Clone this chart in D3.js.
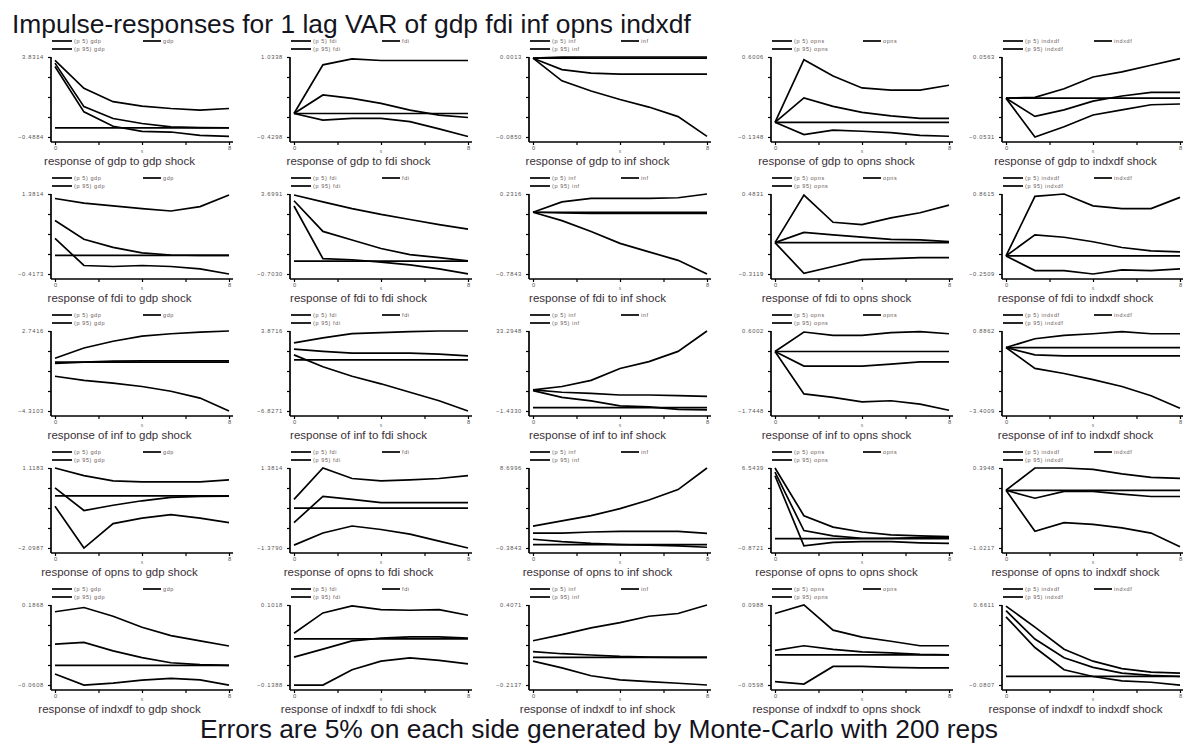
<!DOCTYPE html>
<html>
<head>
<meta charset="utf-8">
<script src="https://cdn.jsdelivr.net/npm/d3@7"></script>
<style>
  body { margin: 0; background: #fff; }
  svg { display: block; font-family: "Liberation Sans", Arial, sans-serif; }
</style>
</head>
<body>
<svg id="chart" width="1183" height="745"></svg>
<script>
// ---------------- data ----------------
const variables = ["gdp", "fdi", "inf", "opns", "indxdf"];
const steps = [0, 1.33, 2.67, 4, 5.33, 6.67, 8];
const xTicks = [0, 2, 4, 6, 8];
const mainTitle = "Impulse-responses for 1 lag VAR of gdp fdi inf opns indxdf";
const footNote = "Errors are 5% on each side generated by Monte-Carlo with 200 reps";

// y-axis extremes (top / bottom tick labels), rows = response, cols = shock
const yTop = [
  [3.8314, 1.0338, 0.0013, 0.6006, 0.0563],
  [1.3814, 3.6991, 0.2316, 0.4831, 0.8615],
  [2.7416, 3.8716, 33.2948, 0.6002, 0.8862],
  [1.1183, 1.3814, 8.6996, 6.5439, 0.3948],
  [0.1868, 0.1018, 0.4071, 0.0988, 0.6611]
];
const yBottom = [
  [-0.4884, -0.4298, -0.0850, -0.1348, -0.0531],
  [-0.4173, -0.7030, -0.7843, -0.3119, -0.2509],
  [-4.3103, -6.8271, -1.4330, -1.7448, -3.4009],
  [-2.0987, -1.3790, -0.3843, -0.8721, -1.0217],
  [-0.0608, -0.1388, -0.2137, -0.0598, -0.0807]
];

// response of gdp to shocks in gdp, fdi, inf, opns, indxdf
const gdpUpper = [
  [3.65, 2.14, 1.42, 1.18, 1.05, 0.96, 1.05],
  [0, 0.89, 1.00, 0.97, 0.97, 0.97, 0.97],
  [0, 0.0012, 0.0013, 0.0013, 0.0013, 0.0013, 0.0013],
  [0, 0.576, 0.426, 0.316, 0.297, 0.297, 0.341],
  [0, 0.001, 0.0128, 0.029, 0.036, 0.045, 0.054]
];
const gdpIrf = [
  [3.50, 1.15, 0.51, 0.24, 0.06, 0.02, 0.01],
  [0, 0.339, 0.277, 0.185, 0.062, -0.03, -0.073],
  [0, -0.0123, -0.016, -0.0171, -0.0171, -0.0171, -0.0171],
  [0, 0.225, 0.147, 0.091, 0.059, 0.037, 0.037],
  [0, -0.025, -0.016, -0.004, 0.003, 0.008, 0.008]
];
const gdpLower = [
  [3.32, 0.87, 0.09, -0.18, -0.22, -0.40, -0.45],
  [0, -0.12, -0.09, -0.09, -0.15, -0.28, -0.42],
  [0, -0.0244, -0.0354, -0.0446, -0.0527, -0.063, -0.0843],
  [0, -0.113, -0.072, -0.082, -0.094, -0.12, -0.128],
  [0, -0.053, -0.039, -0.023, -0.016, -0.009, -0.008]
];

// response of fdi
const fdiUpper = [
  [1.28, 1.175, 1.114, 1.052, 0.999, 1.098, 1.358],
  [3.643, 3.268, 2.894, 2.575, 2.294, 2.013, 1.77],
  [0, 0.132, 0.176, 0.176, 0.176, 0.184, 0.2316],
  [0, 0.473, 0.202, 0.178, 0.246, 0.297, 0.372],
  [0, 0.828, 0.8615, 0.696, 0.658, 0.658, 0.814]
];
const fdiIrf = [
  [0.784, 0.364, 0.18, 0.057, 0.01, 0.0, 0.0],
  [3.33, 1.639, 1.17, 0.702, 0.365, 0.196, 0.02],
  [0, -0.01, -0.015, -0.015, -0.015, -0.015, -0.015],
  [0, 0.101, 0.077, 0.054, 0.033, 0.027, 0.01],
  [0, 0.293, 0.26, 0.198, 0.118, 0.071, 0.057]
];
const fdiLower = [
  [0.386, -0.226, -0.249, -0.226, -0.249, -0.302, -0.417],
  [3.04, 0.14, 0.08, -0.05, -0.2, -0.42, -0.70],
  [0, -0.106, -0.244, -0.395, -0.503, -0.611, -0.784],
  [0, -0.305, -0.237, -0.17, -0.16, -0.15, -0.15],
  [0, -0.203, -0.203, -0.251, -0.194, -0.203, -0.18]
];

// response of inf
const infUpper = [
  [0.344, 1.24, 1.84, 2.29, 2.50, 2.65, 2.74],
  [2.28, 2.96, 3.51, 3.65, 3.78, 3.87, 3.87],
  [7.73, 9.2, 11.87, 17.04, 19.99, 24.44, 33.29],
  [0, 0.57, 0.47, 0.47, 0.55, 0.58, 0.52],
  [0, 0.47, 0.65, 0.74, 0.85, 0.74, 0.74]
];
const infIrf = [
  [-0.12, 0.0, 0.08, 0.1, 0.1, 0.1, 0.1],
  [1.45, 1.14, 0.91, 0.91, 0.91, 0.78, 0.55],
  [7.73, 6.70, 6.25, 5.51, 5.51, 5.2, 4.93],
  [0, -0.427, -0.427, -0.427, -0.368, -0.307, -0.307],
  [0, -0.39, -0.45, -0.45, -0.45, -0.45, -0.45]
];
const infLower = [
  [-1.25, -1.61, -1.85, -2.15, -2.57, -3.17, -4.31],
  [0.68, -0.91, -2.18, -3.19, -4.32, -5.46, -6.83],
  [7.42, 4.47, 3.0, 0.79, 0.34, -0.70, -0.98],
  [0, -1.245, -1.346, -1.475, -1.445, -1.545, -1.724],
  [0, -1.12, -1.39, -1.72, -2.09, -2.58, -3.25]
];

// response of opns
const opnsUpper = [
  [1.118, 0.81, 0.6, 0.56, 0.56, 0.56, 0.64],
  [0.30, 1.38, 1.02, 0.94, 0.97, 1.02, 1.12],
  [2.10, 2.70, 3.29, 4.08, 5.07, 6.25, 8.70],
  [6.54, 2.12, 1.06, 0.61, 0.35, 0.26, 0.19],
  [0, 0.395, 0.395, 0.37, 0.29, 0.23, 0.21]
];
const opnsIrf = [
  [0.32, -0.59, -0.38, -0.2, -0.06, -0.02, -0.01],
  [-0.50, 0.40, 0.30, 0.19, 0.19, 0.19, 0.19],
  [1.31, 1.31, 1.43, 1.51, 1.51, 1.51, 1.28],
  [6.16, 0.74, 0.26, 0.03, 0.03, 0.10, 0.10],
  [0, -0.14, -0.018, -0.018, -0.067, -0.11, -0.11]
];
const opnsLower = [
  [-0.42, -2.10, -1.12, -0.9, -0.76, -0.9, -1.08],
  [-1.28, -0.86, -0.62, -0.74, -0.90, -1.14, -1.38],
  [0.61, 0.33, 0.13, 0.01, -0.07, -0.15, -0.30],
  [5.83, -0.68, -0.35, -0.29, -0.29, -0.39, -0.44],
  [0, -0.726, -0.573, -0.602, -0.665, -0.757, -1.0]
];

// response of indxdf
const indxdfUpper = [
  [0.166, 0.179, 0.152, 0.118, 0.092, 0.076, 0.060],
  [0.017, 0.078, 0.099, 0.088, 0.086, 0.088, 0.071],
  [0.13, 0.177, 0.23, 0.27, 0.32, 0.341, 0.407],
  [0.082, 0.099, 0.049, 0.035, 0.027, 0.018, 0.018],
  [0.651, 0.456, 0.251, 0.14, 0.071, 0.039, 0.03]
];
const indxdfIrf = [
  [0.066, 0.071, 0.045, 0.024, 0.008, 0.002, 0.0],
  [-0.055, -0.031, -0.006, 0.002, 0.006, 0.006, 0.002],
  [0.045, 0.029, 0.019, 0.008, 0.003, 0.0, 0.0],
  [0.009, 0.018, 0.011, 0.006, 0.004, 0.001, 0.0],
  [0.608, 0.345, 0.172, 0.083, 0.03, 0.008, -0.002]
];
const indxdfLower = [
  [-0.027, -0.061, -0.055, -0.046, -0.04, -0.045, -0.061],
  [-0.139, -0.139, -0.093, -0.067, -0.057, -0.065, -0.075],
  [-0.029, -0.081, -0.142, -0.174, -0.187, -0.2, -0.2137],
  [-0.053, -0.058, -0.023, -0.023, -0.025, -0.026, -0.026],
  [0.551, 0.267, 0.061, -0.002, -0.043, -0.055, -0.081]
];

// ---------------- assemble ----------------
const upperRows = [gdpUpper, fdiUpper, infUpper, opnsUpper, indxdfUpper];
const irfRows = [gdpIrf, fdiIrf, infIrf, opnsIrf, indxdfIrf];
const lowerRows = [gdpLower, fdiLower, infLower, opnsLower, indxdfLower];

// ---------------- layout ----------------
const svg = d3.select("#chart");
const ROW_STEP = 137;
const TOP0 = 57;
const PLOT_H = 80;
const PLOT_W = 174;
const CELL_W = 239;
const axisXs = [51, 290, 529, 771, 1002];
const fmt = d3.format(".4f");
const LINE_W = 1.7;

svg.append("text")
  .attr("x", 12).attr("y", 33)
  .attr("font-size", 26.4).attr("fill", "#141420")
  .text(mainTitle);

const line = d3.line();

variables.forEach((resp, r) => {
  variables.forEach((shock, c) => {
    const top = TOP0 + r * ROW_STEP;
    const bottom = top + PLOT_H;
    const ax = axisXs[c];
    const x0 = ax + 4;
    const axisY = top + 85;
    const lo = yBottom[r][c], hi = yTop[r][c];

    const x = d3.scaleLinear().domain([0, 8]).range([x0, x0 + PLOT_W]);
    const y = d3.scaleLinear().domain([lo, hi]).range([bottom, top]);
    const g = svg.append("g");

    // legend
    const lg = g.append("g").attr("font-size", 5.5).attr("fill", "#6a5a5a").attr("letter-spacing", 0.6);
    const legendItems = [
      { lx: ax + 1, ly: top - 16, w: 20, label: "(p 5) " + shock },
      { lx: ax + 1, ly: top - 8, w: 20, label: "(p 95) " + shock },
      { lx: ax + 92, ly: top - 16, w: 18, label: shock }
    ];
    legendItems.forEach(it => {
      lg.append("line")
        .attr("x1", it.lx).attr("x2", it.lx + it.w)
        .attr("y1", it.ly).attr("y2", it.ly)
        .attr("stroke", "#000").attr("stroke-width", LINE_W);
      lg.append("text")
        .attr("x", it.lx + it.w + 2).attr("y", it.ly + 2)
        .text(it.label);
    });

    // y axis
    const yTickVals = d3.range(5).map(i => lo + i * (hi - lo) / 4);
    const yAx = g.append("g")
      .attr("transform", `translate(${ax},0)`)
      .call(d3.axisLeft(y).tickValues(yTickVals).tickSize(3).tickSizeOuter(0).tickPadding(4)
        .tickFormat((d, i) => (i === 0 || i === 4) ? fmt(d) : ""));
    yAx.select(".domain").attr("d", `M0,${top}V${axisY}`).attr("stroke-width", LINE_W);
    yAx.selectAll(".tick line").attr("stroke-width", 1.2);
    yAx.selectAll("text").attr("font-size", 5.8).attr("fill", "#555")
      .attr("font-family", "Liberation Sans, Arial, sans-serif").attr("letter-spacing", 0.7);

    // x axis
    const xAx = g.append("g")
      .attr("transform", `translate(0,${axisY})`)
      .call(d3.axisBottom(x).tickValues(xTicks).tickSize(3).tickSizeOuter(0).tickPadding(1)
        .tickFormat(d => (d === 0 || d === 8) ? String(d) : ""));
    xAx.select(".domain").attr("d", `M${ax},0H${Math.min(x0 + PLOT_W + 4, 1183)}`).attr("stroke-width", LINE_W);
    xAx.selectAll(".tick line").attr("stroke-width", 1.2);
    xAx.selectAll("text").attr("font-size", 5.8).attr("fill", "#555")
      .attr("font-family", "Liberation Sans, Arial, sans-serif");
    g.append("text")
      .attr("x", x(4)).attr("y", axisY + 11)
      .attr("text-anchor", "middle").attr("font-size", 5).attr("fill", "#777")
      .text("s");

    // zero line
    g.append("path")
      .attr("d", line([[x(0), y(0)], [x(8), y(0)]]))
      .attr("fill", "none").attr("stroke", "#000").attr("stroke-width", LINE_W);

    // series
    [lowerRows[r][c], upperRows[r][c], irfRows[r][c]].forEach(series => {
      g.append("path")
        .attr("d", line(series.map((v, i) => [x(steps[i]), y(v)])))
        .attr("fill", "none").attr("stroke", "#000")
        .attr("stroke-width", LINE_W).attr("stroke-linejoin", "miter");
    });

    // panel title
    g.append("text")
      .attr("x", CELL_W * c + 119.5).attr("y", top + 108)
      .attr("text-anchor", "middle")
      .attr("font-size", 11.5).attr("fill", "#3a3038")
      .text(`response of ${resp} to ${shock} shock`);
  });
});

svg.append("text")
  .attr("x", 200).attr("y", 738)
  .attr("font-size", 26.4).attr("fill", "#141420")
  .text(footNote);
</script>
</body>
</html>
